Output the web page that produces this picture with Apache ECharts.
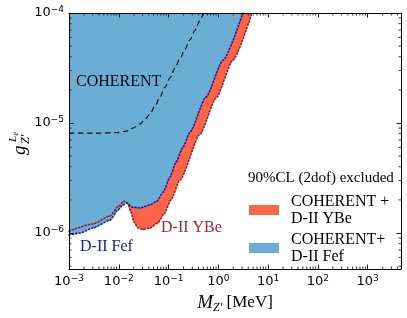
<!DOCTYPE html>
<html><head><meta charset="utf-8">
<script src="https://cdn.jsdelivr.net/npm/echarts@6/dist/echarts.min.js"></script>
<style>html,body{margin:0;padding:0;background:#fff}#c{width:407px;height:318px}</style>
</head><body><div id="c"></div>
<script>
// ---- data (M in MeV, coupling g) ----
const massFef = [1e-3, 1.66e-3, 3.03e-3, 6.65e-3, 9.64e-3, 1.21e-2, 1.46e-2, 1.84e-2, 2.67e-2, 4.24e-2, 5.84e-2, 7.79e-2, 0.107, 0.141, 0.195, 0.269, 0.564, 1.24, 3.12];
const gFef    = [9.6e-7, 1.0e-6, 1.11e-6, 1.31e-6, 1.62e-6, 1.80e-6, 1.88e-6, 1.72e-6, 1.69e-6, 1.80e-6, 1.95e-6, 2.36e-6, 3.23e-6, 4.42e-6, 6.04e-6, 8.26e-6, 1.72e-5, 3.72e-5, 1.0e-4];
const massYBe = [1e-3, 3.03e-3, 6.65e-3, 9.64e-3, 1.27e-2, 1.53e-2, 1.76e-2, 2.02e-2, 2.43e-2, 3.06e-2, 4.24e-2, 6.12e-2, 8.09e-2, 0.112, 0.169, 0.428, 0.895, 1.96, 4.73];
const gYBe    = [1.04e-6, 1.21e-6, 1.43e-6, 1.73e-6, 1.95e-6, 1.84e-6, 1.55e-6, 1.26e-6, 1.11e-6, 1.08e-6, 1.11e-6, 1.24e-6, 1.49e-6, 2.0e-6, 3.03e-6, 7.92e-6, 1.68e-5, 3.72e-5, 1.0e-4];
const massCoh = [1e-3, 4.19e-3, 9.2e-3, 1.46e-2, 1.93e-2, 2.67e-2, 3.36e-2, 4.24e-2, 5.33e-2, 6.72e-2, 8.47e-2, 0.107, 0.135, 0.169, 0.213, 0.269, 0.339, 0.428, 0.502];
const gCoh    = [8.09e-6, 8.09e-6, 8.18e-6, 8.45e-6, 9.0e-6, 9.78e-6, 1.08e-5, 1.21e-5, 1.42e-5, 1.72e-5, 2.12e-5, 2.58e-5, 3.15e-5, 3.84e-5, 4.68e-5, 5.71e-5, 6.97e-5, 8.59e-5, 1.0e-4];
const xTickExps = [-3, -2, -1, 0, 1, 2, 3];
const yTickExps = [-4, -5, -6];
const xRange = [1e-3, 4680];
const yRange = [4.71e-7, 1e-4];
const legendYBe = 'COHERENT +\nD-II YBe';
const legendFef = 'COHERENT+\nD-II Fef';

const RED = '#fe6448', BLUE = '#6aaed6';
const X_MIN = Math.log10(xRange[0]), X_MAX = Math.log10(xRange[1]);
const T_MIN = -Math.log10(yRange[1]), T_MAX = -Math.log10(yRange[0]);
const toXY = (ms, gs) => ms.map((m, i) => [Math.log10(m), -Math.log10(gs[i])]);
const expStr = e => (e < 0 ? '\u2212' + (-e) : String(e));

const tickRich = {
  b: {fontFamily: 'DejaVu Sans', fontSize: 13, color: '#000'},
  s: {fontFamily: 'DejaVu Sans', fontSize: 9, color: '#000', padding: [0, 0, 7, 0]}
};
function xLabel(v) {
  const e = Math.round(v);
  if (Math.abs(v - e) > 1e-6 || xTickExps.indexOf(e) < 0) return '';
  return '{b|10}{s|' + expStr(e) + '}';
}
function yLabel(v) {
  const e = -Math.round(v);
  if (Math.abs(v + e) > 1e-6 || yTickExps.indexOf(e) < 0) return '';
  return '{b|10}{s|' + expStr(e) + '}';
}

// minor tick positions (log spacing)
const minorData = [];
for (let n = -3; n <= 3; n++) for (let k = 2; k <= 9; k++) {
  const v = Math.log10(k * Math.pow(10, n));
  if (v < X_MAX) minorData.push([v, T_MIN, 0]);
}
for (let n = -7; n <= -5; n++) for (let k = 2; k <= 9; k++) {
  const t = -Math.log10(k * Math.pow(10, n));
  if (t > T_MIN && t < T_MAX) minorData.push([X_MIN, t, 1]);
}
function minorTick(params, api) {
  const cs = params.coordSys, len = 2.5;
  const st = {stroke: '#000', lineWidth: 0.8};
  if (api.value(2) === 0) {
    const p = api.coord([api.value(0), T_MIN])[0];
    return {type: 'group', children: [
      {type: 'line', shape: {x1: p, y1: cs.y + cs.height, x2: p, y2: cs.y + cs.height - len}, style: st},
      {type: 'line', shape: {x1: p, y1: cs.y, x2: p, y2: cs.y + len}, style: st}]};
  }
  const p = api.coord([X_MIN, api.value(1)])[1];
  return {type: 'group', children: [
    {type: 'line', shape: {x1: cs.x, y1: p, x2: cs.x + len, y2: p}, style: st},
    {type: 'line', shape: {x1: cs.x + cs.width, y1: p, x2: cs.x + cs.width - len, y2: p}, style: st}]};
}

const axisCommon = {
  type: 'value', z: 10, splitLine: {show: false},
  axisLine: {show: true, onZero: false, lineStyle: {color: '#000', width: 1}},
  axisTick: {show: true, inside: true, length: 4.5, lineStyle: {color: '#000', width: 0.9}}
};
const serif = 'Liberation Serif';

const chart = echarts.init(document.getElementById('c'));
chart.setOption({
  animation: false,
  backgroundColor: '#fff',
  grid: {left: 69, right: 6, top: 13, bottom: 49, containLabel: false, outerBoundsMode: 'none'},
  xAxis: [
    Object.assign({}, axisCommon, {position: 'bottom', min: X_MIN, max: X_MAX, interval: 1,
      axisLabel: {show: true, margin: 5, showMaxLabel: false, formatter: xLabel, rich: tickRich},
      name: '{m|M}{z|Z\u2032}{n| [MeV]}', nameLocation: 'middle', nameGap: 18,
      nameTextStyle: {rich: {
        m: {fontFamily: serif, fontStyle: 'italic', fontSize: 19, color: '#000'},
        z: {fontFamily: serif, fontStyle: 'italic', fontSize: 12, color: '#000', padding: [9, 0, 0, 0]},
        n: {fontFamily: serif, fontSize: 17, color: '#000'}
      }}}),
    Object.assign({}, axisCommon, {position: 'top', min: X_MIN, max: X_MAX, interval: 1, axisLabel: {show: false}})
  ],
  yAxis: [
    Object.assign({}, axisCommon, {position: 'left', inverse: true, min: T_MIN, max: T_MAX, interval: 1,
      axisLabel: {show: true, margin: 5, showMaxLabel: false, formatter: yLabel, rich: tickRich}}),
    Object.assign({}, axisCommon, {position: 'right', inverse: true, min: T_MIN, max: T_MAX, interval: 1, axisLabel: {show: false}})
  ],
  legend: {
    data: [legendYBe, legendFef], orient: 'vertical', left: 249, top: 193, padding: 0,
    itemWidth: 30, itemHeight: 10, itemGap: 4, icon: 'rect', selectedMode: false,
    itemStyle: {borderWidth: 0},
    textStyle: {fontFamily: serif, fontSize: 16, color: '#000', lineHeight: 17, padding: [0, 0, 0, 7]}
  },
  series: [
    {name: legendYBe, type: 'line', data: toXY(massYBe, gYBe), showSymbol: false, smooth: 0.2, smoothMonotone: 'x',
      color: RED, itemStyle: {color: RED, borderWidth: 0}, lineStyle: {opacity: 0, width: 0},
      areaStyle: {origin: 'start', color: RED, opacity: 1}, z: 2, silent: true},
    {name: legendFef, type: 'line', data: toXY(massFef, gFef), showSymbol: false, smooth: 0.2, smoothMonotone: 'x',
      color: BLUE, itemStyle: {color: BLUE, borderWidth: 0}, lineStyle: {opacity: 0, width: 0},
      areaStyle: {origin: 'start', color: BLUE, opacity: 1}, z: 3, silent: true},
    {name: 'YBe boundary', type: 'line', data: toXY(massYBe, gYBe), showSymbol: false, smooth: 0.2, smoothMonotone: 'x',
      lineStyle: {color: '#9b1c1c', width: 1.6, type: [1.2, 2.2], cap: 'round'}, z: 4, silent: true},
    {name: 'Fef boundary', type: 'line', data: toXY(massFef, gFef), showSymbol: false, smooth: 0.2, smoothMonotone: 'x',
      lineStyle: {color: '#1c1ca8', width: 1.6, type: [1.2, 2.2], cap: 'round'}, z: 5, silent: true},
    {name: 'COHERENT', type: 'line', data: toXY(massCoh, gCoh), showSymbol: false, smooth: 0.3, smoothMonotone: 'x',
      lineStyle: {color: '#111', width: 1.2, type: [5.5, 3.5]}, z: 6, silent: true},
    {name: 'minor ticks', type: 'custom', renderItem: minorTick, data: minorData, clip: false, z: 11, silent: true}
  ],
  graphic: [
    {type: 'text', x: 76, y: 81.5, style: {text: 'COHERENT', font: '16px "Liberation Serif"', fill: '#000', verticalAlign: 'middle'}, z: 20},
    {type: 'text', x: 80, y: 246.5, style: {text: 'D-II Fef', font: '16px "Liberation Serif"', fill: '#2020a0', verticalAlign: 'middle'}, z: 20},
    {type: 'text', x: 161, y: 228, style: {text: 'D-II YBe', font: '16px "Liberation Serif"', fill: '#a52a2a', verticalAlign: 'middle'}, z: 20},
    {type: 'text', x: 248, y: 178.5, style: {text: '90%CL (2dof) excluded', font: '15px "Liberation Serif"', fill: '#000', verticalAlign: 'middle'}, z: 20},
    {type: 'group', x: 22, y: 141, rotation: Math.PI / 2, z: 20, children: [
      {type: 'text', x: -14, y: -2, style: {text: 'g', font: 'italic 19px "Liberation Serif"', fill: '#000', verticalAlign: 'middle'}},
      {type: 'text', x: -3, y: 4, style: {text: 'Z\u2032', font: 'italic 12px "Liberation Serif"', fill: '#000', verticalAlign: 'middle'}},
      {type: 'text', x: -1, y: -9, style: {text: 'L', font: 'italic 11px "Liberation Serif"', fill: '#000', verticalAlign: 'middle'}},
      {type: 'text', x: 5.5, y: -6.5, style: {text: 'e', font: 'italic 8px "Liberation Serif"', fill: '#000', verticalAlign: 'middle'}}
    ]}
  ]
});
</script></body></html>
